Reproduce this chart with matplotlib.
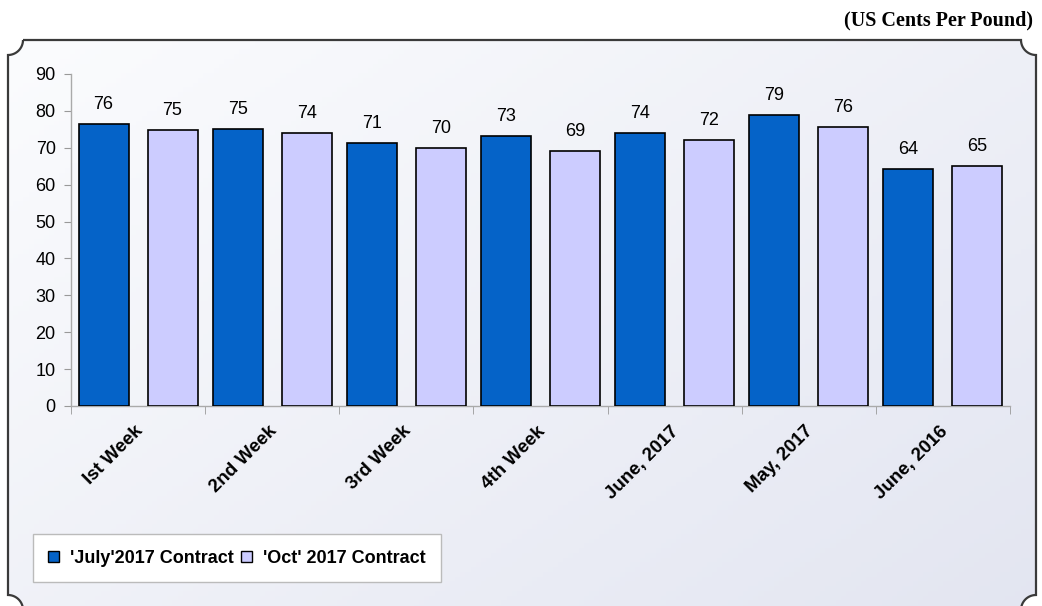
import numpy as np
import matplotlib
matplotlib.use("Agg")
import matplotlib.pyplot as plt
from matplotlib.patches import Polygon, Patch

categories = ["Ist Week", "2nd Week", "3rd Week", "4th Week",
              "June, 2017", "May, 2017", "June, 2016"]
july_2017 = [76.4, 75.2, 71.4, 73.3, 74.1, 78.8, 64.2]
oct_2017 = [74.9, 74.0, 70.0, 69.1, 72.0, 75.6, 65.1]
series_names = ["'July'2017 Contract", "'Oct' 2017 Contract"]
unit_note = "(US Cents Per Pound)"

dark_blue = "#0563C8"
lavender = "#CCCCFF"

W, H = 1042, 606
fig = plt.figure(figsize=(W / 100, H / 100), dpi=100)

# background panel with notched corners
bg = fig.add_axes([0, 0, 1, 1], zorder=0)
bg.set_xlim(0, W)
bg.set_ylim(0, H)
bg.axis("off")

left, right, top, bottom = 8, 1036, H - 40, -4
r = 15
def corner(cx, cy, a0, a1):
    t = np.radians(np.linspace(a0, a1, 20))
    return np.column_stack([cx + r * np.cos(t), cy + r * np.sin(t)])

outline = np.vstack([
    corner(left, top, 0, -90),
    corner(left, bottom, 90, 0),
    corner(right, bottom, 180, 90),
    corner(right, top, 270, 180),
])
panel = Polygon(outline, closed=True, facecolor="none",
                edgecolor="#3a3a3a", lw=1.6, zorder=3)
bg.add_patch(panel)

gx, gy = np.meshgrid(np.linspace(0, 1, 200), np.linspace(0, 1, 120))
grad = 0.55 * gx + 0.45 * gy
c0 = np.array([0.985, 0.988, 0.995])
c1 = np.array([0.89, 0.90, 0.945])
img = c0 + grad[..., None] * (c1 - c0)
im = bg.imshow(img, extent=[left, right, bottom, top], origin="upper",
               aspect="auto", zorder=1)
clip = Polygon(outline, closed=True, transform=bg.transData)
im.set_clip_path(clip)

# main chart
ax = fig.add_axes([71 / W, 1 - 406 / H, (1010 - 71) / W, (406 - 74) / H], zorder=2)
ax.set_facecolor("none")

x = np.arange(len(categories))
bw = 0.373
off = 0.257
b1 = ax.bar(x - off, july_2017, bw, color=dark_blue, edgecolor="black", lw=1.2, zorder=3)
b2 = ax.bar(x + off, oct_2017, bw, color=lavender, edgecolor="black", lw=1.2, zorder=3)

for bars in (b1, b2):
    for b in bars:
        ax.text(b.get_x() + b.get_width() / 2, b.get_height() + 3.0,
                f"{b.get_height():.0f}", ha="center", va="bottom",
                fontsize=13, family="Liberation Sans")

ax.set_xlim(-0.5, len(categories) - 0.5)
ax.set_ylim(0, 90)
ax.set_yticks(range(0, 91, 10))
ax.tick_params(axis="y", colors="#999999", length=5, labelsize=13,
               labelcolor="black", pad=6)
for lab in ax.get_yticklabels():
    lab.set_family("Liberation Sans")

ax.set_xticks(np.arange(-0.5, len(categories), 1.0), minor=True)
ax.set_xticks(x - 0.03)
ax.set_xticklabels(categories, rotation=45, ha="right", rotation_mode="anchor",
                   fontsize=13.5, fontweight="bold", family="Liberation Sans")
ax.tick_params(axis="x", which="major", length=0, pad=12)
ax.tick_params(axis="x", which="minor", length=6, colors="#999999")

for s in ("top", "right"):
    ax.spines[s].set_visible(False)
for s in ("left", "bottom"):
    ax.spines[s].set_color("#aaaaaa")
    ax.spines[s].set_linewidth(1.0)

handles = [Patch(facecolor=dark_blue, edgecolor="black", lw=1),
           Patch(facecolor=lavender, edgecolor="black", lw=1)]
leg = fig.legend(handles, series_names, loc="lower left",
                 bbox_to_anchor=(33 / W, (H - 582) / H), ncol=2,
                 prop={"family": "Liberation Sans", "weight": "bold", "size": 13},
                 frameon=True, fancybox=False, handlelength=0.6, handleheight=0.6,
                 handletextpad=0.6, columnspacing=0.4, borderpad=0.85,
                 borderaxespad=0, edgecolor="#bbbbbb", framealpha=1)
leg.get_frame().set_linewidth(1.0)
leg.set_zorder(5)

fig.text(1033 / W, 1 - 20 / H, unit_note, ha="right", va="center",
         fontsize=14.5, fontweight="bold", family="Liberation Serif")

fig.savefig("out.png", dpi=100)
